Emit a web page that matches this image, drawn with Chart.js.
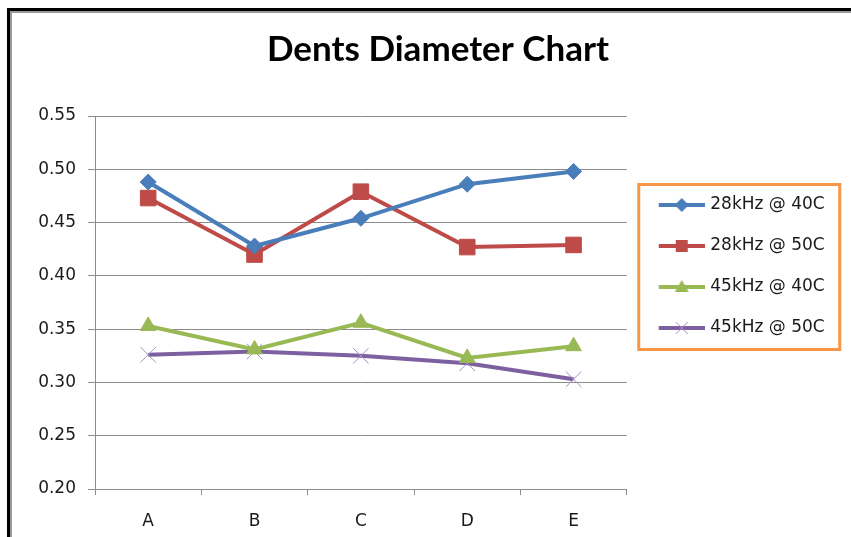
<!DOCTYPE html>
<html>
<head>
<meta charset="utf-8">
<script src="https://cdn.jsdelivr.net/npm/chart.js@4/dist/chart.umd.min.js"></script>
<style>
  html, body { margin: 0; padding: 0; background: #fff; }
  #wrap { position: relative; width: 851px; height: 537px; overflow: hidden; }
  /* double frame of the old spreadsheet chart */
  #frame { position: absolute; left: 7px; top: 8px; width: 900px; height: 600px;
           border-left: 3px solid #000; border-top: 3px solid #000; }
  #frame div { width: 100%; height: 100%; border-left: 2px solid #9a9a9a; border-top: 2px solid #9a9a9a; }
  canvas { position: absolute; left: 0; top: 0; }
</style>
</head>
<body>
<div id="wrap">
  <div id="frame"><div></div></div>
  <canvas id="dentsChart" width="851" height="537"></canvas>
</div>
<script>
"use strict";

// --- data ---
const categories = ['A', 'B', 'C', 'D', 'E'];
const seriesNames = ['28kHz @ 40C', '28kHz @ 50C', '45kHz @ 40C', '45kHz @ 50C'];
const dia28k40 = [0.488, 0.428, 0.454, 0.486, 0.498];
const dia28k50 = [0.473, 0.420, 0.479, 0.427, 0.429];
const dia45k40 = [0.353, 0.331, 0.356, 0.323, 0.334];
const dia45k50 = [0.326, 0.329, 0.325, 0.318, 0.303];
const yTickLabels = ['0.20', '0.25', '0.30', '0.35', '0.40', '0.45', '0.50', '0.55'];

const FONT = "'DejaVu Sans', Verdana, sans-serif";
const FONT_SIZE = 17;
const colors = ['#4a7ebb', '#be4b48', '#98b954', '#7d60a0'];
const markers = ['rectRot', 'rect', 'triangle', 'crossRot'];
const radii = [8, 11, 9, 11];

const LEG_PAD = 24, LEG_BOX = 51;
const PLOT_RIGHT = 625, TITLE_CENTER = 438;

// legend width -> right padding, so the plot ends where the reference does
const mctx = document.createElement('canvas').getContext('2d');
mctx.font = FONT_SIZE + "px " + FONT;
const textW = Math.max(...seriesNames.map(s => mctx.measureText(s).width));
const legendW = LEG_PAD + LEG_BOX + FONT_SIZE / 2 + textW;
const padRight = Math.max(0, 851 - PLOT_RIGHT - legendW - 1);

// little line+marker pictures for the legend
function legendIcon(i) {
    const c = document.createElement('canvas');
    c.width = 57; c.height = 20;
    const g = c.getContext('2d');
    g.strokeStyle = colors[i];
    g.lineWidth = 4;
    g.beginPath(); g.moveTo(11, 10); g.lineTo(57, 10); g.stroke();
    const cx = 34, cy = 10;
    g.fillStyle = colors[i];
    g.beginPath();
    if (i === 0) {
        g.moveTo(cx - 7, cy); g.lineTo(cx, cy - 7); g.lineTo(cx + 7, cy); g.lineTo(cx, cy + 7);
        g.closePath(); g.fill();
    } else if (i === 1) {
        g.fillRect(cx - 6, cy - 6, 12, 12);
    } else if (i === 2) {
        g.moveTo(cx, cy - 7); g.lineTo(cx + 7, cy + 5); g.lineTo(cx - 7, cy + 5);
        g.closePath(); g.fill();
    } else {
        g.strokeStyle = '#a48fc6'; g.lineWidth = 1;
        g.moveTo(cx - 6, cy - 6); g.lineTo(cx + 6, cy + 6);
        g.moveTo(cx + 6, cy - 6); g.lineTo(cx - 6, cy + 6);
        g.stroke();
    }
    return c;
}
const icons = seriesNames.map((n, i) => legendIcon(i));

// title is centred over the whole picture, legend sits a bit above the middle
const nudgeBoxes = {
    id: 'nudgeBoxes',
    afterLayout(chart) {
        const t = chart.titleBlock;
        if (t) {
            const d = TITLE_CENTER - (t.left + t.right) / 2;
            t.left += d; t.right += d;
        }
        const lg = chart.legend;
        if (lg) { lg.top -= 7; lg.bottom -= 7; }
    }
};

const legendFrame = {
    id: 'legendFrame',
    afterDraw(chart) {
        const hb = chart.legend.legendHitBoxes;
        if (!hb || !hb.length) return;
        const first = hb[0], last = hb[hb.length - 1];
        const ctx = chart.ctx;
        ctx.save();
        ctx.strokeStyle = '#f79646';
        ctx.lineWidth = 3;
        ctx.strokeRect(first.left - 12, first.top - 12, 201, last.top + last.height - first.top + 25);
        ctx.restore();
    }
};

const sets = [dia28k40, dia28k50, dia45k40, dia45k50].map((vals, i) => ({
    label: seriesNames[i],
    data: vals,
    borderColor: colors[i],
    backgroundColor: colors[i],
    borderWidth: 4,
    tension: 0,
    pointStyle: markers[i],
    pointRadius: radii[i],
    pointHoverRadius: radii[i],
    pointBackgroundColor: colors[i],
    pointBorderColor: i === 3 ? '#a48fc6' : colors[i],
    pointBorderWidth: 1
}));

new Chart(document.getElementById('dentsChart'), {
    type: 'line',
    data: { labels: categories, datasets: sets },
    plugins: [nudgeBoxes, legendFrame],
    options: {
        responsive: false,
        animation: false,
        layout: { padding: { left: 35, right: padRight, top: 10, bottom: 0 } },
        scales: {
            x: {
                offset: true,
                grid: { offset: true, drawOnChartArea: false, drawTicks: true, tickLength: 6, color: '#8c8c8c' },
                border: { color: '#8c8c8c', width: 1 },
                ticks: { color: '#1a1a1a', font: { family: FONT, size: FONT_SIZE }, padding: 16 },
                afterFit: s => { s.height = 48; }
            },
            y: {
                min: 0.2,
                max: 0.55,
                grid: { color: '#8c8c8c', lineWidth: 1, tickLength: 7 },
                border: { color: '#8c8c8c', width: 1 },
                ticks: {
                    stepSize: 0.05,
                    color: '#1a1a1a',
                    padding: 12,
                    font: { family: FONT, size: FONT_SIZE },
                    callback: (v, idx) => yTickLabels[idx]
                },
                afterFit: s => { s.width = 60; }
            }
        },
        plugins: {
            title: {
                display: true,
                text: 'Dents Diameter Chart',
                color: '#000',
                font: { family: "Lato, 'Open Sans', sans-serif", size: 35, weight: 'bold' },
                padding: { top: 19, bottom: 45 }
            },
            legend: {
                position: 'right',
                align: 'center',
                labels: {
                    usePointStyle: true,
                    pointStyleWidth: LEG_BOX,
                    padding: LEG_PAD,
                    color: '#1a1a1a',
                    font: { family: FONT, size: FONT_SIZE },
                    generateLabels: chart => {
                        const items = Chart.defaults.plugins.legend.labels.generateLabels(chart);
                        items.forEach((it, i) => { it.pointStyle = icons[i]; });
                        return items;
                    }
                }
            },
            tooltip: { enabled: false }
        }
    }
});
</script>
</body>
</html>
